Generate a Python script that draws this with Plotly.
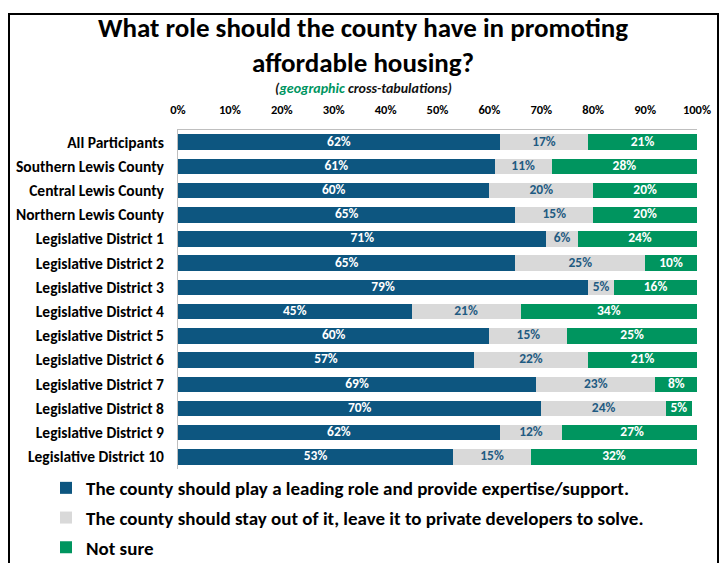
import plotly.graph_objects as go

categories = ["All Participants", "Southern Lewis County", "Central Lewis County",
              "Northern Lewis County", "Legislative District 1", "Legislative District 2",
              "Legislative District 3", "Legislative District 4", "Legislative District 5",
              "Legislative District 6", "Legislative District 7", "Legislative District 8",
              "Legislative District 9", "Legislative District 10"]
leading = [62, 61, 60, 65, 71, 65, 79, 45, 60, 57, 69, 70, 62, 53]
stay_out = [17, 11, 20, 15, 6, 25, 5, 21, 15, 22, 23, 24, 12, 15]
not_sure = [21, 28, 20, 20, 24, 10, 16, 34, 25, 21, 8, 5, 27, 32]
series_names = ["The county should play a leading role and provide expertise/support.",
                "The county should stay out of it, leave it to private developers to solve.",
                "Not sure"]
tick_vals = [0, 10, 20, 30, 40, 50, 60, 70, 80, 90, 100]
tick_text = ["0%", "10%", "20%", "30%", "40%", "50%", "60%", "70%", "80%", "90%", "100%"]

FONT = "Carlito, Lato, 'Open Sans', sans-serif"
BLUE = "#0D5680"
GRAY = "#D9D9D9"
GREEN = "#00955F"

L, R, T, B = 170, 39, 122, 102
PW = 728 - L - R
PH = 563 - T - B

fig = go.Figure()
base = [0] * len(categories)
for i, (name, vals, col, tcol) in enumerate([(series_names[0], leading, BLUE, "white"),
                                             (series_names[1], stay_out, GRAY, "#1F5B82"),
                                             (series_names[2], not_sure, GREEN, "white")]):
    fig.add_trace(go.Bar(
        y=categories, x=vals, name=name, orientation="h",
        marker=dict(color=col, line=dict(width=0)),
        width=0.64, legendgroup=f"g{i}", hoverinfo="x+name",
    ))
    mids = [b + v / 2 for b, v in zip(base, vals)]
    fig.add_trace(go.Scatter(
        y=categories, x=mids, mode="text", text=[f"{v}%" for v in vals],
        textfont=dict(family=FONT, size=13.5, color=tcol, weight="bold"),
        showlegend=False, hoverinfo="skip", cliponaxis=False,
    ))
    base = [b + v for b, v in zip(base, vals)]

fig.update_layout(
    barmode="stack",
    width=728, height=563,
    margin=dict(l=L, r=R, t=T, b=B, autoexpand=False),
    paper_bgcolor="white", plot_bgcolor="white",
    font=dict(family=FONT, color="black"),
    showlegend=True,
    legend=dict(orientation="v", x=(38 - L) / PW, xanchor="left", y=0.0, yanchor="top",
                font=dict(family=FONT, size=19, color="black", weight="bold"),
                traceorder="grouped", itemwidth=30, tracegroupgap=2,
                bgcolor="rgba(0,0,0,0)"),
    xaxis=dict(side="top", range=[0, 100], tickvals=tick_vals, ticktext=tick_text,
               showgrid=False, zeroline=False, showline=True, linecolor="#BFBFBF",
               linewidth=1, ticks="", ticklabelstandoff=10,
               tickfont=dict(family=FONT, size=12.5, color="black", weight="bold")),
    yaxis=dict(range=[len(categories) - 0.5, -0.5], showgrid=False, showline=True,
               linecolor="#BFBFBF", linewidth=1, ticks="", ticklabelstandoff=10,
               tickfont=dict(family=FONT, size=15.5, color="black", weight="bold")),
)

fig.add_annotation(xref="paper", yref="paper", x=(355 - L) / PW, y=(561 - B - 35) / PH,
                   xanchor="center", yanchor="middle", showarrow=False,
                   text="What role should the county have in promoting<br>affordable housing?",
                   font=dict(family=FONT, size=27, color="#000000", weight="bold"))
fig.add_annotation(xref="paper", yref="paper", x=(355 - L) / PW, y=(563 - B - 80) / PH,
                   xanchor="center", yanchor="middle", showarrow=False,
                   text="<b><i>(<span style='color:#00955F'>geographic</span> cross-tabulations)</i></b>",
                   font=dict(family=FONT, size=14, color="#111111"))

fig.add_shape(type="rect", xref="paper", yref="paper",
              x0=(1 - L) / PW, x1=(710 - L) / PW,
              y0=(563 - B - 600) / PH, y1=(563 - B - 6) / PH,
              line=dict(color="black", width=2), fillcolor="rgba(0,0,0,0)", layer="above")

fig.write_html("out.html")
